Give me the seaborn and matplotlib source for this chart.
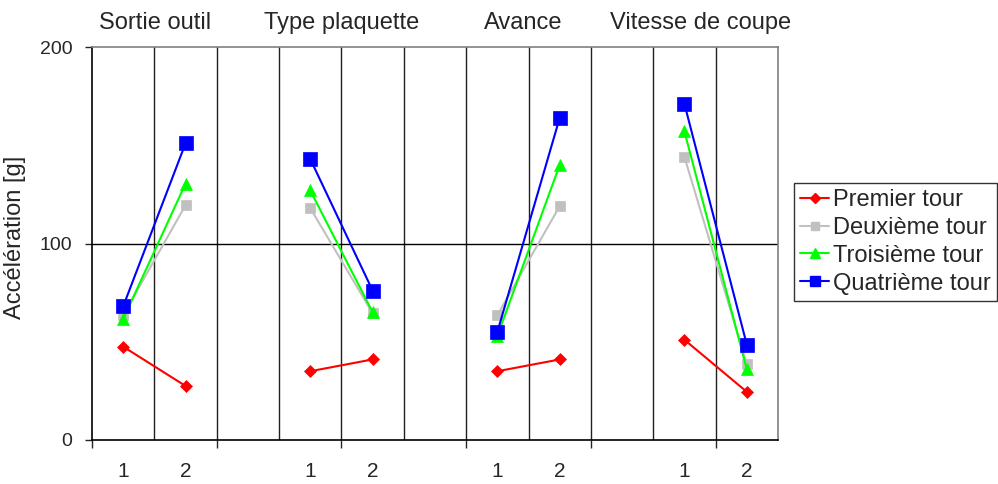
import numpy as np
import pandas as pd
import matplotlib
matplotlib.use("Agg")
import matplotlib.pyplot as plt
import matplotlib.transforms as mtransforms
from matplotlib.lines import Line2D
import seaborn as sns

# ---- data ----
factors = ["Sortie outil", "Type plaquette", "Avance", "Vitesse de coupe"]
levels = ["1", "2"]
series = ["Premier tour", "Deuxième tour", "Troisième tour", "Quatrième tour"]
premier = [47.5, 27.5, 35, 41, 35, 41, 51, 24.5]
deuxieme = [63.5, 119.5, 118, 64.5, 63.5, 119, 144, 38.5]
troisieme = [61.5, 130.5, 127, 65, 53, 140, 157, 36]
quatrieme = [68, 151, 143, 76, 55, 164, 171, 48.5]
yticks = [0, 100, 200]

values = {"Premier tour": premier, "Deuxième tour": deuxieme,
          "Troisième tour": troisieme, "Quatrième tour": quatrieme}

rows = []
for s in series:
    for gi, f in enumerate(factors):
        for li, lv in enumerate(levels):
            rows.append({"series": s, "factor": f, "level": lv,
                         "pos": gi * 3 + li, "val": values[s][gi * 2 + li]})
df = pd.DataFrame(rows)

# ---- style ----
sns.set_style("white")
plt.rcParams["font.family"] = ["Liberation Sans", "DejaVu Sans"]

colors = {"Premier tour": "#FF0000", "Deuxième tour": "#C0C0C0",
          "Troisième tour": "#00FF00", "Quatrième tour": "#0000FF"}
markers = {"Premier tour": "D", "Deuxième tour": "s",
           "Troisième tour": "^", "Quatrième tour": "s"}
msizes = {"Premier tour": 6, "Deuxième tour": 7,
          "Troisième tour": 8.5, "Quatrième tour": 9.5}

W, H = 998, 484
fig = plt.figure(figsize=(W / 100, H / 100), dpi=100)
ax = fig.add_axes([92 / W, 1 - 440 / H, 686 / W, 393 / H])

for s in series:
    sub = df[df["series"] == s]
    sns.lineplot(data=sub, x="pos", y="val", units="factor", estimator=None,
                 color=colors[s], marker=markers[s], markersize=msizes[s],
                 markeredgecolor=colors[s], markeredgewidth=0.5,
                 linewidth=1.5, ax=ax, legend=False, zorder=3)

ax.set_xlim(-0.5, 10.5)
ax.set_ylim(0, 200)

# gridlines
for b in np.arange(0.5, 10.5, 1.0):
    ax.axvline(b, color="#202020", lw=1.0, zorder=1)
ax.axhline(100, color="black", lw=1.0, zorder=1)

ax.set_yticks(yticks)
ax.set_yticklabels([str(v) for v in yticks], fontsize=14)
ax.tick_params(axis="y", length=5, width=1, pad=9, direction="out", left=True)

pos_ticks = sorted(df["pos"].unique())
ax.set_xticks(pos_ticks)
ax.set_xticklabels([levels[p % 3] for p in pos_ticks], fontsize=15)
ax.tick_params(axis="x", which="major", length=0, pad=16)
ax.set_xticks(np.arange(-0.5, 10.5, 2.0), minor=True)
ax.tick_params(axis="x", which="minor", length=6, width=1, direction="out", bottom=True)

ax.set_xlabel("")
ax.set_ylabel("Accélération [g]", fontsize=17)
ax.yaxis.set_label_coords((26 - 92) / 686, 0.515)

for side in ["top", "right"]:
    ax.spines[side].set_color("#808080")
    ax.spines[side].set_linewidth(1.2)
for side in ["left", "bottom"]:
    ax.spines[side].set_color("black")
    ax.spines[side].set_linewidth(1.2)

# factor titles
trans = mtransforms.blended_transform_factory(ax.transData, fig.transFigure)
title_pos = [0.51, 3.5, 6.42, 9.26]
for f, xp in zip(factors, title_pos):
    ax.text(xp, 1 - 23 / H, f, transform=trans, ha="center", va="center",
            fontsize=17)

# legend
handles = [Line2D([0], [0], color=colors[s], marker=markers[s],
                  markersize=msizes[s] * 0.8, markeredgecolor=colors[s],
                  lw=1.5) for s in series]
leg = fig.legend(handles, series, loc="upper left",
                 bbox_to_anchor=(794 / W, 1 - 183 / H), fontsize=17,
                 frameon=True, fancybox=False, handlelength=1.25,
                 handletextpad=0.15, labelspacing=0.25, borderpad=0.25,
                 borderaxespad=0)
leg.get_frame().set_edgecolor("black")
leg.get_frame().set_linewidth(1.0)

fig.savefig("out.png", dpi=100)
